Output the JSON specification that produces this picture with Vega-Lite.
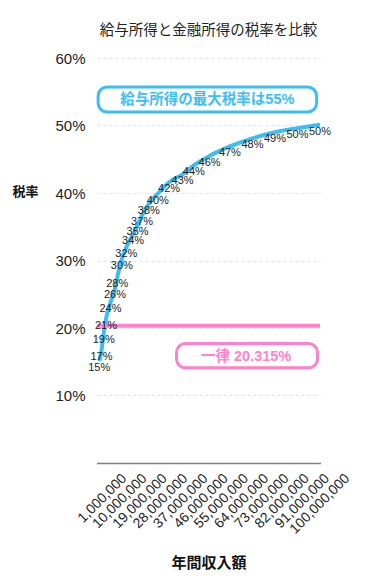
{
  "$schema": "https://vega.github.io/schema/vega-lite/v6.json",
  "width": 223,
  "height": 405,
  "autosize": {"type": "none"},
  "padding": {"left": 97, "top": 58, "right": 55, "bottom": 124},
  "config": {
    "font": "Liberation Sans, Noto Sans CJK JP",
    "view": {"stroke": null}
  },
  "title": {
    "text": "給与所得と金融所得の税率を比較",
    "fontSize": 14.5,
    "fontWeight": "normal",
    "color": "#222",
    "anchor": "middle",
    "frame": "group",
    "offset": 13
  },
  "datasets": {
    "rates": [
      {"series": "給与所得", "income": 2000000, "rate": 0.151},
      {"series": "給与所得", "income": 3000000, "rate": 0.167},
      {"series": "給与所得", "income": 4000000, "rate": 0.193},
      {"series": "給与所得", "income": 5000000, "rate": 0.214},
      {"series": "給与所得", "income": 7000000, "rate": 0.238},
      {"series": "給与所得", "income": 9000000, "rate": 0.259},
      {"series": "給与所得", "income": 10000000, "rate": 0.275},
      {"series": "給与所得", "income": 12000000, "rate": 0.302},
      {"series": "給与所得", "income": 14000000, "rate": 0.3195},
      {"series": "給与所得", "income": 17000000, "rate": 0.339},
      {"series": "給与所得", "income": 19000000, "rate": 0.352},
      {"series": "給与所得", "income": 21000000, "rate": 0.367},
      {"series": "給与所得", "income": 24000000, "rate": 0.384},
      {"series": "給与所得", "income": 28000000, "rate": 0.399},
      {"series": "給与所得", "income": 33000000, "rate": 0.416},
      {"series": "給与所得", "income": 39000000, "rate": 0.4275},
      {"series": "給与所得", "income": 44000000, "rate": 0.441},
      {"series": "給与所得", "income": 51000000, "rate": 0.455},
      {"series": "給与所得", "income": 60000000, "rate": 0.469},
      {"series": "給与所得", "income": 70000000, "rate": 0.481},
      {"series": "給与所得", "income": 80000000, "rate": 0.49},
      {"series": "給与所得", "income": 90000000, "rate": 0.496},
      {"series": "給与所得", "income": 100000000, "rate": 0.501},
      {"series": "金融所得", "income": 1000000, "rate": 0.20315},
      {"series": "金融所得", "income": 100000000, "rate": 0.20315}
    ],
    "boxes": [
      {"series": "給与所得", "income": 1500000, "income2": 98500000, "rate": 0.557, "rate2": 0.52},
      {"series": "金融所得", "income": 36300000, "income2": 98900000, "rate": 0.177, "rate2": 0.141}
    ],
    "boxText": [
      {"series": "給与所得", "income": 50000000, "rate": 0.538, "label": "給与所得の最大税率は55%"},
      {"series": "金融所得", "income": 67200000, "rate": 0.1575, "label": "一律 20.315%"}
    ]
  },
  "encoding": {
    "x": {
      "field": "income",
      "type": "quantitative",
      "scale": {"domain": [1000000, 100000000], "nice": false, "zero": false},
      "axis": {
        "values": [1000000, 10000000, 19000000, 28000000, 37000000, 46000000, 55000000, 64000000, 73000000, 82000000, 91000000, 100000000],
        "format": ",d",
        "labelAngle": -45,
        "labelAlign": "right",
        "labelBaseline": "middle",
        "labelOffset": 27,
        "labelPadding": 13,
        "labelFontSize": 14,
        "labelColor": "#222",
        "labelFlush": false,
        "labelOverlap": false,
        "labelBound": false,
        "ticks": false,
        "grid": false,
        "domain": true,
        "domainColor": "#000",
        "domainWidth": 1.5,
        "domainDash": [1, 1],
        "title": "年間収入額",
        "titleFontSize": 15,
        "titleFontWeight": "bold",
        "titleColor": "#111",
        "titleY": 99,
        "titleBaseline": "middle"
      }
    },
    "y": {
      "field": "rate",
      "type": "quantitative",
      "scale": {"domain": [0, 0.6], "nice": false},
      "axis": {
        "values": [0.1, 0.2, 0.3, 0.4, 0.5, 0.6],
        "format": ".0%",
        "labelFontSize": 15,
        "labelColor": "#222",
        "labelPadding": 12,
        "ticks": false,
        "domain": false,
        "grid": true,
        "gridDash": [3, 3],
        "gridColor": "#e2e2e2",
        "title": "税率",
        "titleAngle": 0,
        "titleX": -72,
        "titleY": 133,
        "titleAlign": "center",
        "titleBaseline": "middle",
        "titleFontSize": 13,
        "titleFontWeight": "bold",
        "titleColor": "#111"
      }
    }
  },
  "layer": [
    {
      "data": {"name": "rates"},
      "mark": {"type": "line", "interpolate": "monotone", "strokeWidth": 4},
      "encoding": {
        "color": {
          "field": "series",
          "type": "nominal",
          "scale": {"domain": ["給与所得", "金融所得"], "range": ["#3bbdf6", "#ff80cc"]},
          "legend": null
        }
      }
    },
    {
      "data": {"name": "rates"},
      "transform": [{"filter": "datum.series === '給与所得'"}],
      "mark": {"type": "text", "fontSize": 11, "dy": 7, "baseline": "middle", "color": "#222"},
      "encoding": {
        "text": {"field": "rate", "type": "quantitative", "format": ".0%"}
      }
    },
    {
      "data": {"name": "boxes"},
      "mark": {"type": "rect", "fill": "white", "strokeWidth": 3, "cornerRadius": 9},
      "encoding": {
        "x2": {"field": "income2"},
        "y2": {"field": "rate2"},
        "stroke": {
          "field": "series",
          "type": "nominal",
          "scale": {"domain": ["給与所得", "金融所得"], "range": ["#3bbdf6", "#ff80cc"]},
          "legend": null
        }
      }
    },
    {
      "data": {"name": "boxText"},
      "mark": {"type": "text", "fontSize": 14.5, "fontWeight": "bold", "baseline": "middle", "align": "center"},
      "encoding": {
        "text": {"field": "label"},
        "color": {
          "field": "series",
          "type": "nominal",
          "scale": {"domain": ["給与所得", "金融所得"], "range": ["#3bbdf6", "#ff80cc"]},
          "legend": null
        }
      }
    }
  ]
}
